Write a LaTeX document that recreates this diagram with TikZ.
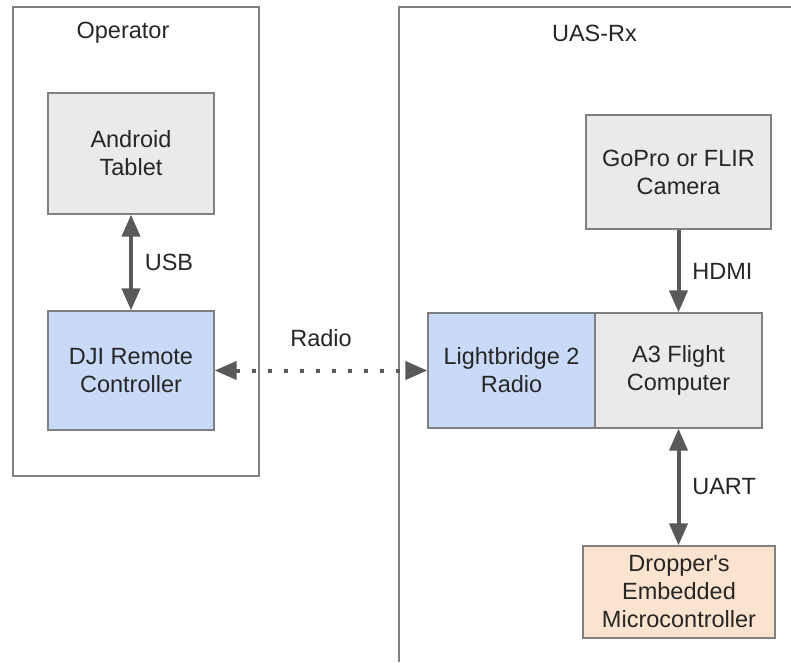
\documentclass[tikz,border=0pt]{standalone}
\usepackage{fontspec}
\setmainfont{Liberation Sans}
\usepackage{tikz}
\usetikzlibrary{arrows.meta,positioning}

\definecolor{boxgray}{RGB}{234,234,234}
\definecolor{boxblue}{RGB}{201,218,248}
\definecolor{boxorange}{RGB}{250,227,207}
\definecolor{edgegray}{RGB}{128,128,128}
\definecolor{linkgray}{RGB}{89,89,89}

\begin{document}
\begin{tikzpicture}[x=1pt, y=-1pt,
  every node/.style={font=\fontsize{23.5}{28}\selectfont, text=black!85},
  unit/.style={draw=edgegray, line width=1.3pt, align=center, inner sep=0pt},
  group/.style={draw=edgegray, line width=1.5pt},
  link/.style={draw=linkgray, line width=4pt, {Triangle[length=22pt,width=18pt]}-{Triangle[length=22pt,width=18pt]}},
  feed/.style={draw=linkgray, line width=4pt, -{Triangle[length=22pt,width=18pt]}},
  wireless/.style={link, dash pattern=on 4pt off 12pt}]
\useasboundingbox (0,0) rectangle (791,662);

% frames
\node[group, minimum width=246pt, minimum height=469pt] (operator) at (136,241.5) {};
\draw[group] (399,662) |- (791,7);
\node (opname) at (123,33) {Operator};
\node (uasname) at (594.5,33) {UAS-Rx};

% operator side
\node[unit, fill=boxgray, minimum width=166pt, minimum height=121pt] (tablet) at (131,153.5) {Android\\Tablet};
\node[unit, fill=boxblue, minimum width=166pt, minimum height=119pt] (rc) at (131,370.5) {DJI Remote\\Controller};

% aircraft side
\node[unit, fill=boxgray, minimum width=185pt, minimum height=114pt] (camera) at (678.5,172) {GoPro or FLIR\\Camera};
\node[unit, fill=boxblue, minimum width=167pt, minimum height=115pt] (lb2) at (511.5,370.5) {Lightbridge 2\\Radio};
\node[unit, fill=boxgray, minimum width=167pt, minimum height=115pt] (a3) at (678.5,370.5) {A3 Flight\\Computer};
\node[unit, fill=boxorange, minimum width=192pt, minimum height=92pt] (dropper) at (679,592) {Dropper\textquotesingle s\\Embedded\\Microcontroller};

% links
\draw[link] (tablet.south) -- node[midway, right=8.5pt] {USB} (rc.north);
\draw[feed] (camera.south) -- node[midway, right=8.5pt] {HDMI} (a3.north);
\draw[link] (a3.south) -- node[midway, right=8.5pt] {UART} (a3.south |- dropper.north);
\draw[wireless] (rc.east) -- node[midway, above=18pt] {Radio} (lb2.west);

\end{tikzpicture}
\end{document}
